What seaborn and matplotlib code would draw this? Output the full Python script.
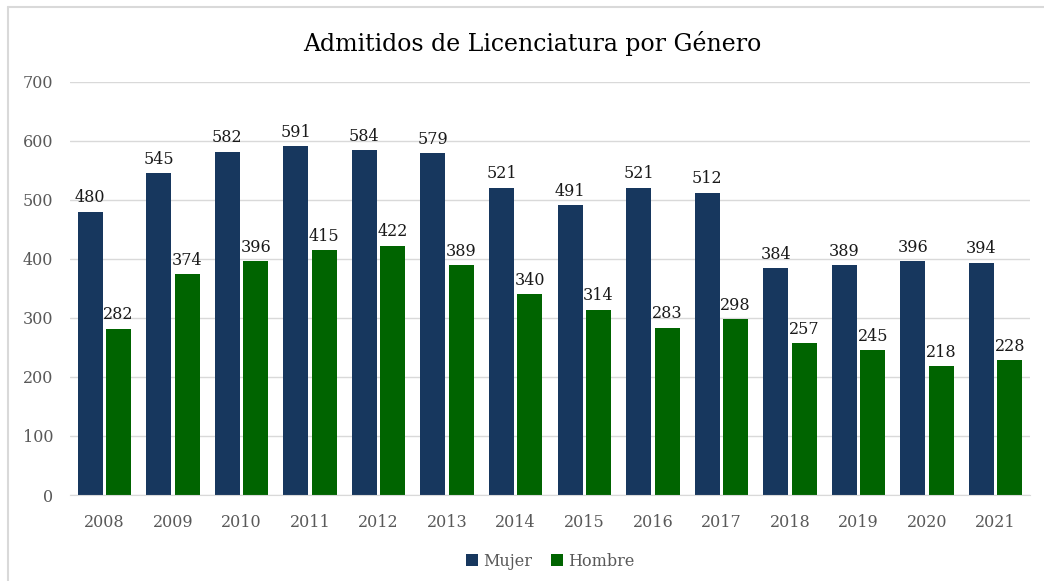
import numpy as np
import pandas as pd
import matplotlib.pyplot as plt
import seaborn as sns
from matplotlib.lines import Line2D

years = ["2008", "2009", "2010", "2011", "2012", "2013", "2014",
         "2015", "2016", "2017", "2018", "2019", "2020", "2021"]
mujer = [480, 545, 582, 591, 584, 579, 521, 491, 521, 512, 384, 389, 396, 394]
hombre = [282, 374, 396, 415, 422, 389, 340, 314, 283, 298, 257, 245, 218, 228]

df = pd.DataFrame({"year": years * 2,
                   "value": mujer + hombre,
                   "genero": ["Mujer"] * len(years) + ["Hombre"] * len(years)})

sns.set_style("white")
plt.rcParams['font.family'] = ['DejaVu Serif']

fig = plt.figure(figsize=(10.44, 5.81), dpi=100)
ax = fig.add_axes([70 / 1044, 0.148, 960 / 1044, 0.711])

colors = {"Mujer": "#17375E", "Hombre": "#006400"}
sns.barplot(ax=ax, data=df, x="year", y="value", hue="genero",
            palette=colors, width=0.83, gap=0.12, saturation=1, linewidth=0)

for c in ax.containers:
    ax.bar_label(c, fmt="%d", padding=4, fontsize=11.5, color="#1a1a1a")

ax.set_ylim(0, 700)
ax.set_yticks(range(0, 701, 100))
ax.yaxis.grid(True, color="#D9D9D9", linewidth=1)
ax.set_axisbelow(True)
for s in ["top", "right", "left"]:
    ax.spines[s].set_visible(False)
ax.spines["bottom"].set_color("#D9D9D9")
ax.tick_params(axis="x", length=0, labelsize=11.5, labelcolor="#595959", pad=14)
ax.tick_params(axis="y", length=0, labelsize=11.5, labelcolor="#595959", pad=12)
ax.set_xlabel("")
ax.set_ylabel("")

ax.legend(loc="upper center", bbox_to_anchor=(0.5, -0.105), ncol=2, frameon=False,
          fontsize=11.5, labelcolor="#595959", handlelength=0.75, handleheight=0.75,
          handletextpad=0.3, columnspacing=1.2)

fig.text(0.51, 0.925, "Admitidos de Licenciatura por Género", ha="center",
         va="center", fontsize=17, color="black")

fig.add_artist(Line2D([8 / 1044, 1], [1 - 7 / 581, 1 - 7 / 581],
                      transform=fig.transFigure, color="#D9D9D9", linewidth=1.5))
fig.add_artist(Line2D([8 / 1044, 8 / 1044], [0, 1 - 7 / 581],
                      transform=fig.transFigure, color="#D9D9D9", linewidth=1.5))

fig.savefig("out.png", dpi=100)
